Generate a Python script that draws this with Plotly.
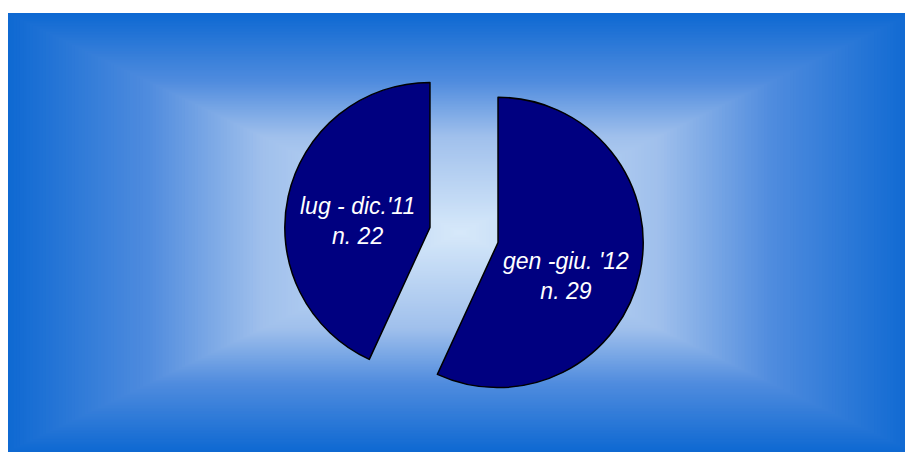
import plotly.graph_objects as go

# Data
periods = ["lug - dic.'11", "gen -giu. '12"]
counts = [22, 29]

W, H = 913, 452
OFF = 8  # browser body margin offset

# Background rectangular gradient (style)
grad_stops = [(0.0, (215, 233, 250)), (0.44, (160, 192, 236)), (0.69, (80, 140, 222)), (1.0, (15, 105, 210))]


def grad_color(t):
    for (t0, c0), (t1, c1) in zip(grad_stops[:-1], grad_stops[1:]):
        if t <= t1:
            f = (t - t0) / (t1 - t0)
            return "rgb(%d,%d,%d)" % tuple(round(a + (b - a) * f) for a, b in zip(c0, c1))
    return "rgb(%d,%d,%d)" % grad_stops[-1][1]


# gradient box in figure pixels (reference coords minus offset)
px0, px1 = 7 - OFF, 913 - OFF
py0, py1 = 13 - OFF, 452 - OFF
bx0, bx1 = px0 / W, px1 / W
by0, by1 = 1 - py1 / H, 1 - py0 / H
cx, cy = (bx0 + bx1) / 2, (by0 + by1) / 2
hw, hh = (bx1 - bx0) / 2, (by1 - by0) / 2

shapes = [dict(type="rect", xref="paper", yref="paper", layer="below",
               x0=0, x1=1, y0=0, y1=by1, fillcolor=grad_color(1.0), line=dict(width=0))]
N = 140
for i in range(N, 0, -1):
    t = i / N
    shapes.append(dict(type="rect", xref="paper", yref="paper", layer="below",
                       x0=cx - t * hw, x1=cx + t * hw, y0=cy - t * hh, y1=cy + t * hh,
                       fillcolor=grad_color(t), line=dict(width=0)))

# pie placement
pcx = (464 - OFF) / W
pcy = 1 - (235 - OFF) / H
ph = 360 / H
pw = 0.6

fig = go.Figure(go.Pie(
    labels=periods,
    values=counts,
    textinfo="none",
    marker=dict(colors=["#000080", "#000080"], line=dict(color="black", width=1.5)),
    pull=[0.24, 0.24],
    rotation=-360 * counts[0] / sum(counts),
    direction="clockwise",
    sort=False,
    hoverinfo="none",
    showlegend=False,
    domain=dict(x=[pcx - pw / 2, pcx + pw / 2], y=[pcy - ph / 2, pcy + ph / 2]),
))

# slice labels
label_pos = [(357, 221.5), (566, 275.5)]
annotations = []
for (lx, ly), per, n in zip(label_pos, periods, counts):
    annotations.append(dict(
        x=(lx - OFF) / W, y=1 - (ly - OFF) / H, xref="paper", yref="paper",
        xanchor="center", yanchor="middle", showarrow=False, align="center",
        text=f"<i>{per}<br>n. {n}</i>",
        font=dict(color="white", size=23, family="Liberation Sans, Arial, sans-serif"),
    ))

fig.update_layout(
    width=W, height=H,
    margin=dict(l=0, r=0, t=0, b=0),
    paper_bgcolor="white",
    plot_bgcolor="white",
    shapes=shapes,
    annotations=annotations,
)

fig.write_html("out.html")
